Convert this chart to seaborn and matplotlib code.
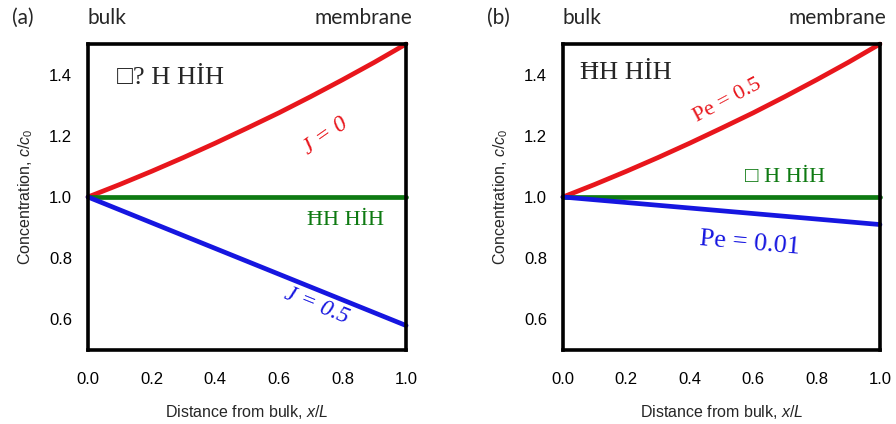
import matplotlib
matplotlib.use("Agg")
import matplotlib.pyplot as plt
import seaborn as sns
import pandas as pd

x_pos = [0.0, 0.1, 0.2, 0.3, 0.4, 0.5, 0.6, 0.7, 0.8, 0.9, 1.0]
red_a = [1.0, 1.041, 1.084, 1.129, 1.176, 1.225, 1.275, 1.328, 1.383, 1.44, 1.5]
green_a = [1.0, 1.0, 1.0, 1.0, 1.0, 1.0, 1.0, 1.0, 1.0, 1.0, 1.0]
blue_a = [1.0, 0.958, 0.916, 0.874, 0.832, 0.79, 0.748, 0.706, 0.664, 0.622, 0.58]
red_b = [1.0, 1.041, 1.084, 1.129, 1.176, 1.225, 1.275, 1.328, 1.383, 1.44, 1.5]
green_b = [1.0, 1.0, 1.0, 1.0, 1.0, 1.0, 1.0, 1.0, 1.0, 1.0, 1.0]
blue_b = [1.0, 0.991, 0.982, 0.973, 0.964, 0.955, 0.946, 0.937, 0.928, 0.919, 0.91]
x_ticks = [0.0, 0.2, 0.4, 0.6, 0.8, 1.0]
y_ticks = [0.6, 0.8, 1.0, 1.2, 1.4]

RED = "#e8161c"
GREEN = "#0e7a12"
BLUE = "#1616e0"

sns.set_style("white")
plt.rcParams["font.family"] = "sans-serif"
plt.rcParams["font.sans-serif"] = ["Liberation Sans", "DejaVu Sans"]
plt.rcParams["mathtext.fontset"] = "custom"
plt.rcParams["mathtext.rm"] = "Liberation Sans"
plt.rcParams["mathtext.it"] = "Liberation Sans:italic"

fig = plt.figure(figsize=(8.96, 4.24), dpi=100)
ax_a = fig.add_axes([0.0982, 0.1745, 0.355, 0.7217])
ax_b = fig.add_axes([0.6283, 0.1745, 0.3538, 0.7217])

serif = ["Liberation Serif", "DejaVu Serif"]
calib = ["Lato", "DejaVu Sans"]

def style(ax, label):
    for s in ax.spines.values():
        s.set_visible(True)
        s.set_color("black")
        s.set_linewidth(2.6)
    ax.set_xlim(0, 1)
    ax.set_ylim(0.5, 1.5)
    ax.set_xticks(x_ticks)
    ax.set_yticks(y_ticks)
    ax.set_xticklabels([f"{v:.1f}" for v in x_ticks])
    ax.set_yticklabels([f"{v:.1f}" for v in y_ticks])
    ax.tick_params(axis="both", direction="inout", length=7, width=2.6,
                   labelsize=12, colors="black", pad=8)
    ax.tick_params(axis="x", pad=12)
    ax.set_xlabel("Distance from bulk, $\\it{x/L}$", fontsize=11.5, labelpad=12)
    ax.set_ylabel("Concentration, $\\it{c/c_0}$", fontsize=11.5, labelpad=10)
    ax.text(-0.24, 1.085, label, transform=ax.transAxes, fontsize=15,
            family=calib, ha="left", va="center")
    ax.text(0.0, 1.085, "bulk", transform=ax.transAxes, fontsize=15,
            family=calib, ha="left", va="center")
    ax.text(1.02, 1.085, "membrane", transform=ax.transAxes, fontsize=15,
            family=calib, ha="right", va="center")

def draw(ax, ys):
    for y, c in ys:
        df = pd.DataFrame({"x": x_pos, "y": y})
        sns.lineplot(data=df, x="x", y="y", ax=ax, color=c, linewidth=3.4,
                     clip_on=False)

draw(ax_a, [(red_a, RED), (green_a, GREEN), (blue_a, BLUE)])
draw(ax_b, [(red_b, RED), (green_b, GREEN), (blue_b, BLUE)])
style(ax_a, "(a)")
style(ax_b, "(b)")

ax_a.text(0.26, 1.39, "□? H HİH", fontsize=19, family=serif, ha="center", va="center")
ax_a.text(0.745, 1.2, "J = 0", fontsize=17, family=serif, style="italic",
          color=RED, rotation=35, ha="center", va="center")
ax_a.text(0.81, 0.923, "ĦH HİH", fontsize=16, family=serif, color=GREEN,
          ha="center", va="center")
ax_a.text(0.72, 0.644, "J = 0.5", fontsize=17, family=serif, style="italic",
          color=BLUE, rotation=-22, ha="center", va="center")

ax_b.text(0.2, 1.405, "ĦH HİH", fontsize=19, family=serif, ha="center", va="center")
ax_b.text(0.52, 1.316, "Pe = 0.5", fontsize=16, family=serif, color=RED,
          rotation=28, ha="center", va="center")
ax_b.text(0.70, 1.064, "□ H HİH", fontsize=16, family=serif, color=GREEN,
          ha="center", va="center")
ax_b.text(0.59, 0.85, "Pe = 0.01", fontsize=19, family=serif, color=BLUE,
          rotation=-5, ha="center", va="center")

fig.savefig("out.png", dpi=100)
